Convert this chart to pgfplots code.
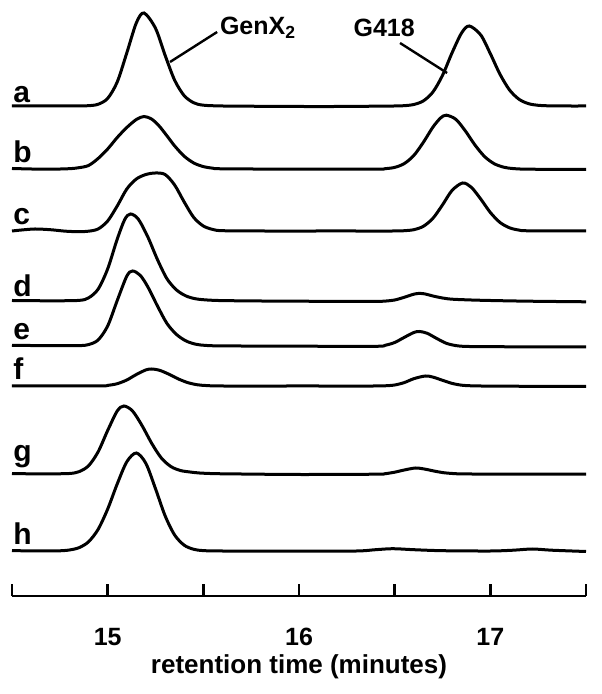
\documentclass[border=0pt]{standalone}
\usepackage{fontspec}
\setmainfont{Liberation Sans}
\usepackage{pgfplots}
\usepackage{pgfplotstable}
\pgfplotsset{compat=1.18}

% one table per trace: retention time (min), offset signal
\pgfplotstableread{
x y
14.50 490
14.70 490
14.85 490.1
14.90 490.3
14.95 491.7
15.00 497.6
15.05 514.0
15.10 543.1
15.15 573.2
15.19 583.0
15.25 567.7
15.30 540.8
15.35 515.8
15.40 500.3
15.45 493.2
15.50 490.8
15.60 490.0
15.80 489.7
16.00 489.5
16.20 489.5
16.40 489.8
16.50 490.0
16.55 490.3
16.60 491.5
16.65 495.1
16.70 504.0
16.75 520.6
16.80 543.2
16.85 563.1
16.89 570.0
16.95 561.0
17.00 542.3
17.05 521.9
17.10 506.1
17.15 496.7
17.20 492.3
17.25 490.7
17.30 490.2
17.40 490.0
17.50 490.0
}\tabA

\pgfplotstableread{
x y
14.50 427.5
14.60 427.0
14.70 426.8
14.80 427.3
14.85 428.3
14.90 430.5
14.95 437.5
15.00 447.0
15.05 458.5
15.10 468.5
15.15 476.5
15.19 479.5
15.23 476.9
15.27 469.8
15.31 460.1
15.35 450.1
15.40 439.8
15.45 433.0
15.50 429.4
15.55 427.8
15.60 427.2
16.00 426.8
16.40 426.8
16.45 427.3
16.50 428.6
16.55 432.4
16.60 440.5
16.65 453.7
16.70 468.9
16.74 478.0
16.77 480.8
16.82 476.6
16.87 464.9
16.92 450.9
16.97 439.4
17.02 432.3
17.07 428.8
17.12 427.4
17.20 426.8
17.50 426.5
}\tabB

\pgfplotstableread{
x y
14.50 365.0
14.55 366.0
14.62 367.0
14.70 366.3
14.78 364.8
14.85 364.3
14.90 364.8
14.95 367.0
15.00 375.0
15.05 390.0
15.10 407.0
15.15 417.0
15.20 421.5
15.25 423.0
15.30 421.5
15.35 411.0
15.40 394.0
15.45 378.5
15.50 370.0
15.55 366.5
15.60 365.3
15.80 365.0
16.20 365.0
16.50 365.0
16.55 365.3
16.60 366.3
16.65 369.7
16.70 377.7
16.75 391.1
16.80 405.6
16.855 413.0
16.90 408.8
16.95 396.9
17.00 383.5
17.05 373.6
17.10 368.2
17.15 365.9
17.20 365.2
17.50 365.0
}\tabC

\pgfplotstableread{
x y
14.50 295.5
14.70 295.2
14.85 295.6
14.90 298.1
14.95 306.8
15.00 327.1
15.05 356.9
15.09 376.8
15.12 382.0
15.16 376.9
15.21 359.0
15.26 336.5
15.31 317.2
15.36 306.0
15.41 300.0
15.46 297.2
15.52 296.0
15.60 295.4
15.80 295.0
16.00 294.8
16.20 294.6
16.40 294.6
16.45 294.9
16.50 296.0
16.55 298.7
16.60 301.8
16.63 302.6
16.66 302.0
16.70 300.0
16.75 298.0
16.80 296.8
16.90 296.0
17.00 295.5
17.20 294.8
17.50 294.2
}\tabD

\pgfplotstableread{
x y
14.50 250.6
14.70 250.4
14.85 250.4
14.90 251.4
14.95 256.0
15.00 270.0
15.05 295.5
15.10 319.9
15.13 325.0
15.17 320.7
15.21 309.1
15.26 290.1
15.31 272.5
15.36 261.5
15.41 255.0
15.46 251.8
15.51 250.6
15.60 250.1
16.00 249.8
16.40 249.7
16.45 250.7
16.50 253.5
16.55 258.6
16.60 263.5
16.63 264.5
16.67 262.7
16.72 257.5
16.77 252.7
16.82 250.4
16.87 249.6
17.00 249.3
17.50 249.0
}\tabE

\pgfplotstableread{
x y
14.50 210.0
14.95 210.1
15.00 210.6
15.05 212.3
15.10 216.0
15.15 221.5
15.20 226.1
15.23 227.0
15.27 225.8
15.32 221.8
15.37 217.0
15.42 213.3
15.47 211.2
15.52 210.4
15.60 210.0
16.00 210.0
16.40 210.0
16.45 210.2
16.50 211.0
16.55 213.4
16.60 217.3
16.66 220.0
16.70 218.9
16.75 215.7
16.80 212.6
16.85 210.8
16.90 210.2
16.95 210.0
17.10 209.8
17.30 209.6
17.50 209.5
}\tabF

\pgfplotstableread{
x y
14.50 122.3
14.70 122.2
14.80 122.5
14.85 124.3
14.90 130.2
14.95 144.1
15.00 165.5
15.05 185.0
15.085 190.0
15.13 185.0
15.18 170.3
15.23 152.7
15.28 138.1
15.33 129.5
15.38 125.5
15.43 124.0
15.48 123.0
15.55 122.4
15.65 122.1
16.00 121.5
16.40 121.8
16.45 122.3
16.50 123.8
16.55 126.0
16.61 128.0
16.66 126.8
16.71 124.8
16.76 123.2
16.82 122.3
16.90 122.0
17.50 121.8
}\tabG

\pgfplotstableread{
x y
14.50 45.3
14.70 45.1
14.75 45.2
14.80 46.0
14.85 48.3
14.90 54.2
14.95 66.6
15.00 86.9
15.05 112.1
15.10 134.2
15.15 143.0
15.20 132.5
15.25 107.3
15.30 80.3
15.35 61.0
15.40 50.8
15.45 46.7
15.50 45.4
15.60 45.0
16.00 44.8
16.30 45.0
16.40 46.3
16.49 47.3
16.60 46.3
16.75 45.3
17.00 45.0
17.12 45.8
17.22 47.0
17.32 45.8
17.50 44.5
}\tabH

\begin{document}
\begin{tikzpicture}
\path[use as bounding box] (-6pt,-49pt) rectangle (294.5pt,298pt);
\begin{axis}[
    scale only axis,
    width=287pt, height=298pt,
    xmin=14.5, xmax=17.5, ymin=0, ymax=596,
    axis x line=bottom, axis y line=none,
    x axis line style={-, line width=1.4pt},
    xtick={14.5,15,15.5,16,16.5,17,17.5},
    xticklabels={,15,,16,,17,},
    xtick align=inside,
    major tick length=6pt,
    every tick/.style={black, line width=1.4pt},
    xticklabel style={font=\bfseries\fontsize{12.5}{12.5}\selectfont, anchor=center, yshift=-20.5pt},
    xlabel={retention time (minutes)},
    xlabel style={font=\bfseries\fontsize{13}{13}\selectfont, at={(axis description cs:0.5,0)}, anchor=center, yshift=-35.5pt},
    clip=false,
    trace/.style={black, solid, line width=1.5pt, smooth, mark=none},
]
\addplot[trace] table {\tabA};
\addplot[trace] table {\tabB};
\addplot[trace] table {\tabC};
\addplot[trace] table {\tabD};
\addplot[trace] table {\tabE};
\addplot[trace] table {\tabF};
\addplot[trace] table {\tabG};
\addplot[trace] table {\tabH};

\foreach \lab/\yy in {a/493,b/433,c/371,d/299,e/256,f/216,g/134,h/51}{
  \edef\temp{\noexpand\node[anchor=base west, inner sep=0pt, font=\noexpand\bfseries\noexpand\fontsize{15}{15}\noexpand\selectfont] at (axis cs:14.505,\yy) {\lab};}
  \temp
}

\draw[line width=1.2pt] (axis cs:15.326,534) -- (axis cs:15.572,564);
\node[anchor=base west, inner sep=0pt, font=\bfseries\fontsize{12.5}{12.5}\selectfont] at (axis cs:15.585,561) {GenX\textsubscript{2}};
\draw[line width=1.2pt] (axis cs:16.528,553) -- (axis cs:16.774,523);
\node[anchor=base, inner sep=0pt, font=\bfseries\fontsize{12.5}{12.5}\selectfont] at (axis cs:16.445,559) {G418};
\end{axis}
\end{tikzpicture}
\end{document}
